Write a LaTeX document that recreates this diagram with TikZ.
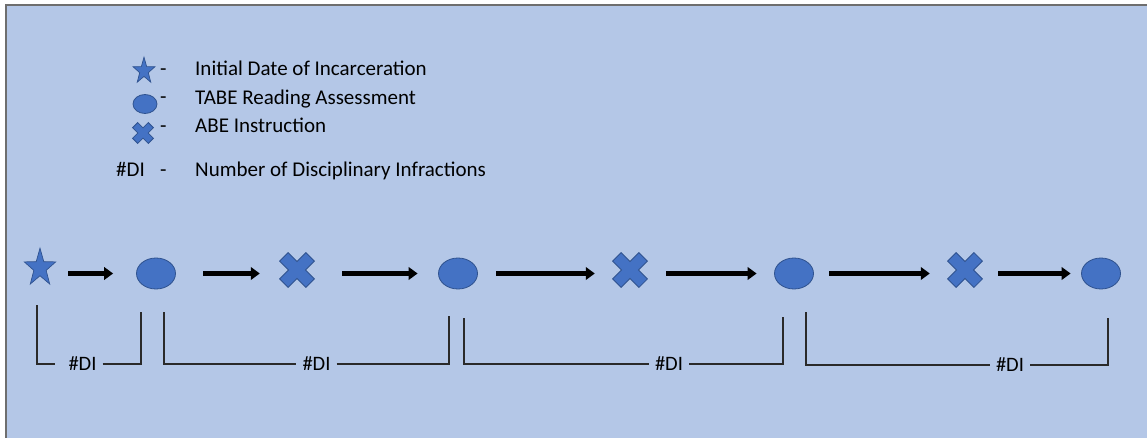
\documentclass[tikz,border=0pt]{standalone}
\usepackage{fontspec}
\setmainfont{Carlito}
\usetikzlibrary{shapes.geometric,arrows.meta}
\definecolor{bgblue}{HTML}{B4C7E7}
\definecolor{shapefill}{HTML}{4472C4}
\definecolor{shapeline}{HTML}{2F528F}
\definecolor{framegray}{HTML}{6E6E6E}
\definecolor{brk}{HTML}{2A2A2A}
\tikzset{
  starnode/.style={star, star points=5, star point ratio=2.55, fill=shapefill, draw=shapeline, line width=0.7pt, inner sep=0pt, minimum size=#1},
  ellnode/.style={ellipse, fill=shapefill, draw=shapeline, line width=0.8pt, inner sep=0pt, minimum width=#1},
  xholder/.style={inner sep=0pt, minimum size=#1},
  xmk/.style={fill=shapefill, draw=shapeline, line width=0.8pt, line join=miter},
  arr/.style={line width=4.4pt, -{Triangle[length=9pt,width=12.5pt]}, black},
  brack/.style={line width=1.3pt, brk},
  txt/.style={font=\fontsize{21}{25}\selectfont, text=black, inner sep=0pt, anchor=base west},
  di/.style={font=\fontsize{20.5}{24}\selectfont, text=black, inner xsep=6pt, inner ysep=0pt}
}
\newcommand\xsym[2]{\draw[xmk, shift={(#1)}, rotate=45, scale=#2]
  (6,6) -- (18.6,6) -- (18.6,-6) -- (6,-6) -- (6,-18.6) -- (-6,-18.6) -- (-6,-6) -- (-18.6,-6) -- (-18.6,6) -- (-6,6) -- (-6,18.6) -- (6,18.6) -- cycle;}
\begin{document}
\begin{tikzpicture}[x=1pt,y=-1pt]
\useasboundingbox (0,0) rectangle (1147,438);
\fill[white] (0,0) rectangle (1147,438);
\fill[bgblue] (5,4) rectangle (1147,438);
\draw[framegray, line width=2pt] (5.8,438) -- (5.8,4.8) -- (1147,4.8);

% legend
\node[starnode=23pt, yscale=1.2, transform shape] (ls) at (144,71) {};
\node[ellnode=24pt, minimum height=19pt] (le) at (145,104) {};
\node[xholder=21pt] (lx) at (143,133) {};
\xsym{lx}{0.6}
\node[txt] (ld1) at (160,76) {-};
\node[txt] (ld2) at (160,104) {-};
\node[txt] (ld3) at (160,133) {-};
\node[txt] (ldi) at (116,177) {\#DI};
\node[txt] (ld4) at (160,177) {-};
\node[txt] (lt1) at (195,76) {Initial Date of Incarceration};
\node[txt] (lt2) at (195,104.5) {TABE Reading Assessment};
\node[txt] (lt3) at (195,133) {ABE Instruction};
\node[txt] (lt4) at (195,177) {Number of Disciplinary Infractions};

% timeline
\node[starnode=33pt, yscale=1.2, transform shape] (s) at (40,268) {};
\node[ellnode=39pt, minimum height=31pt] (e1) at (156,273.5) {};
\node[xholder=35pt] (x1) at (297,270) {};
\xsym{x1}{1}
\node[ellnode=39pt, minimum height=31pt] (e2) at (458,273.5) {};
\node[xholder=35pt] (x2) at (630,270) {};
\xsym{x2}{1}
\node[ellnode=39pt, minimum height=31pt] (e3) at (794,273.5) {};
\node[xholder=35pt] (x3) at (965,270) {};
\xsym{x3}{1}
\node[ellnode=39pt, minimum height=31pt] (e4) at (1101,273.5) {};

\draw[arr, shorten <=28pt, shorten >=23pt] (s.center |- e1.center) -- (e1.west);
\draw[arr, shorten <=27.5pt, shorten >=19.5pt] (e1.east) -- (e1.east -| x1.west);
\draw[arr, shorten <=27.5pt, shorten >=20.5pt] (x1.east |- e2.center) -- (e2.west);
\draw[arr, shorten <=18.5pt, shorten >=17.5pt] (e2.east) -- (e2.east -| x2.west);
\draw[arr, shorten <=18.5pt, shorten >=17.5pt] (x2.east |- e3.center) -- (e3.west);
\draw[arr, shorten <=15.5pt, shorten >=17.5pt] (e3.east) -- (e3.east -| x3.west);
\draw[arr, shorten <=15.5pt, shorten >=10.5pt] (x3.east |- e4.center) -- (e4.west);

% brackets
\node[di] (d1) at (82.5,364) {\#DI};
\node[di] (d2) at (316.5,364) {\#DI};
\node[di] (d3) at (669,364) {\#DI};
\node[di] (d4) at (1010,365) {\#DI};
\coordinate (b1a) at (37,305);  \coordinate (b1b) at (141,312);
\coordinate (b2a) at (164,312); \coordinate (b2b) at (449,316);
\coordinate (b3a) at (464,318); \coordinate (b3b) at (783,317);
\coordinate (b4a) at (806,312); \coordinate (b4b) at (1108,318);
\draw[brack] (b1a) |- ([xshift=-7pt]d1.west);
\draw[brack] (d1.east) -| (b1b);
\draw[brack] (b2a) |- (d2.west);
\draw[brack] (d2.east) -| (b2b);
\draw[brack] (b3a) |- (d3.west);
\draw[brack] (d3.east) -| (b3b);
\draw[brack] (b4a) |- (d4.west);
\draw[brack] (d4.east) -| (b4b);
\end{tikzpicture}
\end{document}
